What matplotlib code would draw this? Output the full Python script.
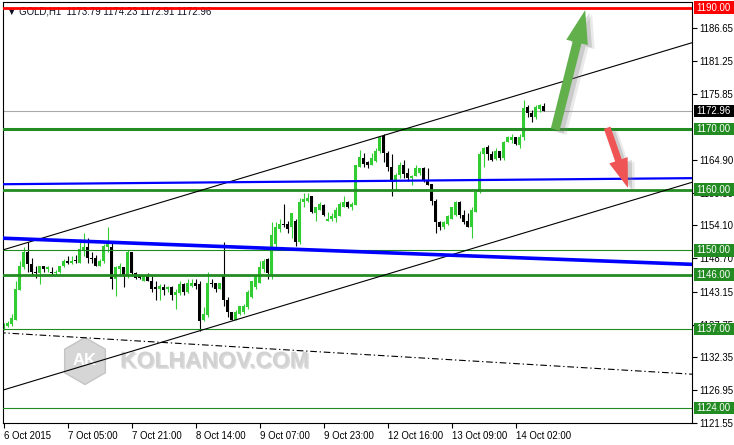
import matplotlib
matplotlib.use('Agg')
import matplotlib.pyplot as plt
import numpy as np
import matplotlib.patheffects as pe
import matplotlib.transforms as mtransforms
from matplotlib.patches import Rectangle, RegularPolygon, FancyArrowPatch

plt.rcParams['font.family'] = ['Liberation Sans', 'DejaVu Sans']

# ---------------- data (GOLD, H1) ----------------
opens = [1137.2, 1137.5, 1137.8, 1138.6, 1143.4, 1147.2, 1149.8, 1147.8, 1146.4, 1146.2,
         1147.5, 1146.9, 1146.5, 1146.2, 1146.4, 1147.4, 1148.3, 1148.0, 1148.3, 1148.0,
         1150.1, 1150.5, 1148.8, 1148.7, 1147.5, 1148.2, 1150.6, 1150.5, 1145.2, 1147.0,
         1147.2, 1145.9, 1149.8, 1146.2, 1145.7, 1145.0, 1146.0, 1145.0, 1143.9, 1143.6,
         1143.9, 1143.7, 1143.9, 1142.7, 1142.9, 1144.4, 1143.1, 1144.1, 1144.7, 1144.4,
         1138.5, 1139.3, 1144.7, 1144.6, 1143.7, 1145.7, 1141.9, 1139.8, 1138.6, 1139.5,
         1139.8, 1140.6, 1142.3, 1143.9, 1144.7, 1147.0, 1148.5, 1146.0, 1151.0, 1153.6,
         1154.4, 1154.3, 1153.8, 1154.9, 1151.3, 1157.9, 1158.2, 1158.9, 1156.2, 1156.7,
         1157.5, 1154.9, 1155.1, 1155.4, 1155.6, 1157.2, 1158.0, 1157.1, 1157.5, 1163.8,
         1165.3, 1164.6, 1164.1, 1164.8, 1166.3, 1168.9, 1166.1, 1163.8, 1161.2, 1162.5,
         1164.1, 1162.8, 1162.0, 1162.3, 1162.8, 1163.5, 1161.5, 1161.0, 1158.2, 1154.6,
         1153.8, 1154.3, 1155.2, 1155.9, 1158.0, 1155.9, 1154.8, 1153.9, 1156.4, 1159.7,
         1165.8, 1167.1, 1165.9, 1165.1, 1166.3, 1165.3, 1167.9, 1168.2, 1168.6, 1167.4,
         1168.6, 1173.7, 1172.7, 1171.9, 1173.3, 1173.79]
highs = [1138.0, 1138.3, 1139.5, 1144.9, 1148.2, 1150.5, 1151.3, 1148.7, 1147.4, 1147.5,
         1147.5, 1147.4, 1147.2, 1146.7, 1147.5, 1148.5, 1149.0, 1149.0, 1149.3, 1151.8,
         1152.9, 1152.1, 1149.7, 1149.2, 1148.5, 1151.0, 1153.8, 1151.5, 1147.4, 1148.0,
         1147.2, 1150.1, 1149.8, 1146.5, 1146.0, 1146.0, 1146.2, 1145.7, 1144.9, 1144.4,
         1144.4, 1144.2, 1144.1, 1143.6, 1144.9, 1144.7, 1145.2, 1145.2, 1145.2, 1144.9,
         1140.6, 1146.5, 1145.2, 1144.7, 1144.7, 1151.3, 1142.3, 1139.9, 1140.1, 1140.9,
         1141.1, 1143.4, 1145.0, 1146.0, 1148.2, 1148.5, 1148.8, 1154.6, 1154.6, 1155.1,
         1157.7, 1154.8, 1156.2, 1155.1, 1158.7, 1159.5, 1159.5, 1159.0, 1157.2, 1158.0,
         1157.7, 1156.4, 1156.1, 1157.2, 1158.0, 1158.9, 1158.2, 1157.9, 1164.1, 1166.6,
         1166.1, 1164.8, 1166.1, 1166.8, 1168.9, 1169.1, 1166.4, 1165.8, 1162.8, 1164.5,
         1164.9, 1163.6, 1162.5, 1164.0, 1163.6, 1163.8, 1163.6, 1161.0, 1158.4, 1154.8,
         1154.8, 1155.9, 1157.2, 1158.2, 1158.2, 1156.7, 1156.2, 1157.1, 1160.0, 1166.4,
         1167.1, 1167.4, 1166.3, 1166.8, 1166.4, 1168.1, 1168.9, 1169.1, 1168.6, 1169.1,
         1174.8, 1174.0, 1173.2, 1174.0, 1174.2, 1174.23]
lows = [1136.8, 1137.3, 1137.6, 1138.5, 1143.4, 1147.0, 1146.5, 1146.0, 1145.5, 1144.4,
        1146.4, 1146.5, 1146.0, 1146.0, 1146.2, 1147.2, 1147.7, 1147.7, 1148.0, 1148.0,
        1149.0, 1148.0, 1148.0, 1147.4, 1147.4, 1148.0, 1149.8, 1143.6, 1142.4, 1146.0,
        1143.9, 1145.4, 1145.9, 1145.2, 1145.2, 1144.9, 1144.9, 1143.1, 1141.9, 1141.9,
        1142.7, 1143.2, 1141.9, 1140.3, 1142.7, 1142.7, 1142.9, 1143.9, 1143.6, 1136.7,
        1138.3, 1139.1, 1143.9, 1143.1, 1143.6, 1140.9, 1139.1, 1138.5, 1138.5, 1139.3,
        1139.5, 1140.4, 1142.1, 1143.6, 1144.7, 1146.5, 1145.2, 1145.2, 1150.6, 1153.1,
        1153.9, 1152.9, 1152.1, 1150.8, 1151.1, 1157.2, 1157.9, 1156.2, 1154.8, 1156.6,
        1155.6, 1154.8, 1154.9, 1154.6, 1155.6, 1157.1, 1156.9, 1156.7, 1157.4, 1163.8,
        1163.8, 1163.6, 1164.1, 1164.5, 1166.1, 1164.5, 1163.1, 1159.0, 1160.0, 1162.0,
        1162.0, 1161.5, 1160.8, 1162.2, 1162.5, 1161.3, 1160.8, 1157.5, 1152.8, 1153.4,
        1153.6, 1154.1, 1155.1, 1155.7, 1155.4, 1154.3, 1153.8, 1152.0, 1156.4, 1159.5,
        1163.8, 1164.9, 1164.8, 1164.9, 1164.9, 1164.9, 1167.9, 1167.7, 1167.4, 1166.8,
        1168.2, 1171.9, 1171.2, 1171.7, 1172.8, 1172.91]
closes = [1137.6, 1138.0, 1138.8, 1143.7, 1147.4, 1149.8, 1147.7, 1146.4, 1146.2, 1147.5,
          1146.9, 1147.2, 1146.2, 1146.5, 1147.4, 1148.3, 1148.0, 1148.3, 1148.2, 1150.3,
          1150.6, 1148.7, 1148.5, 1147.5, 1148.3, 1150.8, 1151.3, 1145.2, 1147.2, 1147.4,
          1145.7, 1149.8, 1146.2, 1145.5, 1145.4, 1146.0, 1145.0, 1143.6, 1143.7, 1144.1,
          1143.4, 1143.9, 1142.7, 1143.2, 1144.4, 1143.2, 1144.6, 1144.7, 1144.2, 1138.3,
          1139.5, 1144.7, 1144.4, 1143.7, 1144.6, 1141.9, 1139.8, 1138.6, 1139.8, 1140.8,
          1140.9, 1143.2, 1144.9, 1145.7, 1147.2, 1148.2, 1146.2, 1152.6, 1153.8, 1154.4,
          1154.1, 1153.6, 1156.1, 1151.3, 1158.0, 1158.4, 1158.7, 1156.4, 1157.1, 1157.7,
          1155.9, 1155.2, 1155.6, 1156.7, 1157.7, 1158.0, 1157.1, 1157.7, 1164.1, 1165.4,
          1164.3, 1164.1, 1165.3, 1166.3, 1168.7, 1166.1, 1163.8, 1161.2, 1162.5, 1164.1,
          1162.6, 1162.0, 1162.3, 1163.6, 1163.5, 1161.5, 1160.8, 1158.2, 1154.6, 1153.8,
          1154.6, 1155.7, 1157.1, 1158.0, 1155.9, 1154.6, 1153.8, 1156.7, 1159.7, 1165.9,
          1166.8, 1165.9, 1164.9, 1166.3, 1165.3, 1167.9, 1168.7, 1168.6, 1167.6, 1168.7,
          1173.5, 1172.7, 1171.9, 1173.7, 1174.0, 1172.96]

time_labels = ['6 Oct 2015', '7 Oct 05:00', '7 Oct 21:00', '8 Oct 14:00', '9 Oct 07:00',
               '9 Oct 23:00', '12 Oct 16:00', '13 Oct 09:00', '14 Oct 02:00']
time_label_bars = [0, 16, 32, 48, 64, 80, 96, 112, 128]

price_ticks = [1186.65, 1181.25, 1175.85, 1164.90, 1159.50, 1154.10,
               1148.70, 1143.15, 1137.75, 1132.35, 1126.95, 1121.55]

level_prices = [1190.0, 1170.0, 1160.0, 1150.0, 1146.0, 1137.0, 1124.0]
bid_price = 1172.96
header = '\u25BC GOLD,H1  1173.79 1174.23 1172.91 1172.96'

# trend lines: two anchor points (bar index, price)
upper_channel = ([0, 172], [1150.1, 1184.2])
lower_channel = ([0, 172], [1127.0, 1161.2])
blue_flat = ([0, 172], [1160.9, 1161.9])
blue_down = ([0, 172], [1152.0, 1147.7])
dash_dot = ([0, 172], [1136.4, 1129.6])

green_arrow = ((137.9, 1169.9), (145.4, 1189.6))
red_arrow = ((150.9, 1170.2), (156.1, 1160.3))

# ---------------- styles ----------------
BULL = '#32cd32'
FG = '#228b22'
RED = '#ff0000'
FS = 6.9
W, H = 734, 445
XMIN, XMAX = -0.25, 172.1
YMIN, YMAX = 1121.69, 1190.93

fig = plt.figure(figsize=(W / 100, H / 100), dpi=100)
ax = fig.add_axes([2.5 / W, (H - 423) / H, (692 - 2.5) / W, (423 - 2) / H])
ax.set_xlim(XMIN, XMAX)
ax.set_ylim(YMIN, YMAX)

o = np.array(opens); h = np.array(highs); l = np.array(lows); c = np.array(closes)
x = np.arange(len(o))
up = c >= o
bottom = np.minimum(o, c)
height = np.maximum(np.abs(c - o), 0.13)
ax.vlines(x[up], l[up], h[up], color=BULL, lw=0.8, zorder=2)
ax.vlines(x[~up], l[~up], h[~up], color='black', lw=0.8, zorder=2)
ax.bar(x[up], height[up], bottom=bottom[up], width=0.68, color=BULL, lw=0, zorder=2.1)
ax.bar(x[~up], height[~up], bottom=bottom[~up], width=0.68, color='black', lw=0, zorder=2.1)

# horizontal levels
level_colors = [RED, FG, FG, FG, FG, FG, FG]
level_widths = [2.0, 2.2, 2.0, 0.8, 2.0, 0.8, 0.8]
for p, col, lw in zip(level_prices, level_colors, level_widths):
    ax.axhline(p, color=col, lw=lw, zorder=3)
ax.axhline(bid_price, color='#a9a9a9', lw=0.8, zorder=1.8)


def draw_line(anchor, **kw):
    (x0, x1), (y0, y1) = anchor
    s = (y1 - y0) / (x1 - x0)
    xs = np.array([XMIN - 1, XMAX + 1])
    ax.plot(xs, y0 + s * (xs - x0), **kw)


draw_line(upper_channel, color='black', lw=0.8, zorder=3)
draw_line(lower_channel, color='black', lw=0.8, zorder=3)
draw_line(blue_flat, color='#0000ff', lw=1.6, zorder=3)
draw_line(blue_down, color='#0000ff', lw=2.6, zorder=3)
draw_line(dash_dot, color='black', lw=0.8, ls=(0, (6, 2.5, 1.2, 2.5)), zorder=3)

# arrows with soft shadow
def soft_shadow():
    return [pe.SimplePatchShadow(offset=(5, -3), shadow_rgbFace='#909090', alpha=0.18),
            pe.SimplePatchShadow(offset=(3, -2), shadow_rgbFace='#707070', alpha=0.25),
            pe.Normal()]


ga = FancyArrowPatch(green_arrow[0], green_arrow[1],
                     arrowstyle='simple,head_length=24,head_width=16,tail_width=6.5',
                     mutation_scale=1, color='#62b04c', lw=0, shrinkA=0, shrinkB=0,
                     zorder=6, path_effects=soft_shadow())
ax.add_patch(ga)
ra = FancyArrowPatch(red_arrow[0], red_arrow[1],
                     arrowstyle='simple,head_length=21,head_width=14,tail_width=5',
                     mutation_scale=1, color='#f05555', lw=0, shrinkA=0, shrinkB=0,
                     zorder=6, path_effects=soft_shadow())
ax.add_patch(ra)

# watermark
hexa = RegularPolygon((0.85, 0.84), numVertices=6, radius=0.235, orientation=0,
                      transform=fig.dpi_scale_trans, facecolor='#d6d6d6',
                      edgecolor='#c4c4c4', lw=1, zorder=0.5, clip_on=False)
ax.add_patch(hexa)
ax.text(0.85, 0.845, 'AK', transform=fig.dpi_scale_trans, ha='center', va='center',
        color='white', fontsize=12, fontweight='bold', zorder=0.55)
ax.text(1.20, 0.84, 'KOLHANOV.COM', transform=fig.dpi_scale_trans, ha='left', va='center',
        color='#d2d2d2', fontsize=16.5, fontweight='bold', zorder=0.6,
        path_effects=[pe.withSimplePatchShadow(offset=(1, -1), shadow_rgbFace='#bbbbbb', alpha=0.5)])

# header
ax.text(4.5 / 689.5, 1 - 9.5 / 421, header, transform=ax.transAxes, ha='left', va='center',
        fontsize=FS, color='#101020', zorder=1.9)

# axes styling
for sp in ax.spines.values():
    sp.set_color('black')
    sp.set_linewidth(0.8)
ax.yaxis.tick_right()
ax.set_yticks(price_ticks)
ax.set_yticklabels([f'{v:.2f}' for v in price_ticks])
ax.tick_params(axis='y', direction='out', length=3.5, width=0.8, pad=2, labelsize=FS)
ax.set_xticks(time_label_bars)
ax.set_xticklabels(time_labels)
ax.tick_params(axis='x', direction='out', length=3.5, width=0.8, pad=2.5, labelsize=FS)
for lab in ax.get_xticklabels():
    lab.set_horizontalalignment('left')

# price boxes on the right axis
trans = mtransforms.blended_transform_factory(ax.transAxes, ax.transData)
box_x0 = (694 - 2.5) / 689.5
box_w = (734 - 694) / 689.5
box_h = 12.5 / 6.08
box_items = [(p, col) for p, col in zip(level_prices, level_colors)] + [(bid_price, 'black')]
for p, col in box_items:
    ax.add_patch(Rectangle((box_x0, p - box_h / 2), box_w, box_h, transform=trans,
                           facecolor=col, edgecolor='none', clip_on=False, zorder=7))
    ax.text(box_x0 + box_w / 2 - 0.001, p, f'{p:.2f}', transform=trans, ha='center',
            va='center', color='white', fontsize=FS, clip_on=False, zorder=8)

fig.savefig('out.png', dpi=100, facecolor='white')
